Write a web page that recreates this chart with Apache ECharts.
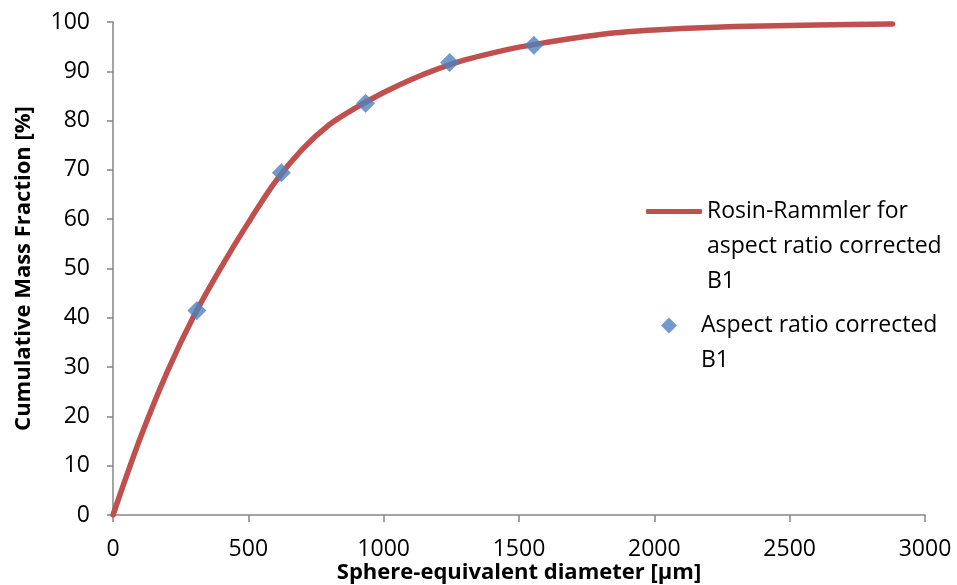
<!DOCTYPE html>
<html>
<head>
<meta charset="utf-8">
<script src="https://cdn.jsdelivr.net/npm/echarts@6/dist/echarts.min.js"></script>
<style>
  html, body { margin: 0; padding: 0; background: #fff; }
  #chart { width: 957px; height: 585px; }
</style>
</head>
<body>
<div id="chart"></div>
<script>
// fitted Rosin-Rammler curve
const fitX = [0, 100, 200, 300, 400, 500, 600, 700, 800, 900, 1000, 1100, 1200, 1300, 1400, 1500, 1600, 1700, 1800, 1900, 2000, 2200, 2400, 2600, 2880]
const fitY = [0, 15.5, 29, 40.5, 50.3, 59.3, 67.6, 74.2, 79.2, 82.7, 85.7, 88.3, 90.5, 92.3, 93.7, 94.9, 95.85, 96.7, 97.45, 98.0, 98.4, 98.9, 99.2, 99.4, 99.6]

// measured points
const measX = [310, 622, 933, 1244, 1555]
const measY = [41.5, 69.4, 83.5, 91.8, 95.3]

const xTicks = [0, 500, 1000, 1500, 2000, 2500, 3000]
const yTicks = [0, 10, 20, 30, 40, 50, 60, 70, 80, 90, 100]

const fitName = 'Rosin-Rammler for\naspect ratio corrected\nB1'
const measName = 'Aspect ratio corrected\nB1'

const font = '"Open Sans", "Liberation Sans", sans-serif'
const axisGrey = '#868686'
const legendText = { fontSize: 23, color: '#000', lineHeight: 35, fontFamily: font }

const chart = echarts.init(document.getElementById('chart'))

chart.setOption({
    animation: false,
    textStyle: { fontFamily: font },
    grid: { left: 113, right: 32, top: 22, bottom: 70, containLabel: false, outerBoundsMode: 'none' },
    legend: [
        {
            // empty lines in front so the icon sits on the first line
            orient: 'vertical',
            left: 641,
            top: 119,
            itemWidth: 56,
            itemHeight: 5,
            data: [{ name: fitName, icon: 'roundRect' }],
            formatter: n => '\n\n' + n,
            textStyle: legendText
        },
        {
            orient: 'vertical',
            left: 656,
            top: 268,
            itemWidth: 54,
            itemHeight: 16,
            symbolKeepAspect: true,
            data: [{ name: measName, icon: 'path://M0,-1L1,0L0,1L-1,0Z' }],
            formatter: n => '\n' + n,
            textStyle: legendText
        }
    ],
    xAxis: {
        type: 'value',
        min: xTicks[0],
        max: xTicks[xTicks.length - 1],
        interval: xTicks[1] - xTicks[0],
        name: 'Sphere-equivalent diameter [µm]',
        nameLocation: 'middle',
        nameGap: 47,
        nameMoveOverlap: false,
        nameTextStyle: { fontSize: 22, fontWeight: 'bold', color: '#000', fontFamily: font },
        axisLine: { lineStyle: { color: axisGrey, width: 1.5 } },
        axisTick: { show: true, length: 7, lineStyle: { color: axisGrey, width: 1.5 } },
        axisLabel: { fontSize: 23, color: '#000', margin: 23, formatter: v => String(v) },
        splitLine: { show: false }
    },
    yAxis: {
        type: 'value',
        min: yTicks[0],
        max: yTicks[yTicks.length - 1],
        interval: yTicks[1] - yTicks[0],
        name: 'Cumulative Mass Fraction [%]',
        nameLocation: 'middle',
        nameRotate: 90,
        nameGap: 78,
        nameMoveOverlap: false,
        nameTextStyle: { fontSize: 22, fontWeight: 'bold', color: '#000', fontFamily: font },
        axisLine: { show: true, lineStyle: { color: axisGrey, width: 1.5 } },
        axisTick: { show: true, length: 6, lineStyle: { color: axisGrey, width: 1.5 } },
        axisLabel: { fontSize: 23, color: '#000', margin: 23 },
        splitLine: { show: false }
    },
    series: [
        {
            name: fitName,
            type: 'line',
            data: fitX.map((x, i) => [x, fitY[i]]),
            smooth: 0.3,
            showSymbol: false,
            symbol: 'none',
            lineStyle: { color: '#C0504D', width: 5.5, cap: 'round' },
            itemStyle: { color: '#C0504D' },
            z: 2
        },
        {
            name: measName,
            type: 'scatter',
            data: measX.map((x, i) => [x, measY[i]]),
            symbol: 'diamond',
            symbolSize: 19,
            itemStyle: { color: '#4F81BD' },
            z: 3
        }
    ]
})
</script>
</body>
</html>
